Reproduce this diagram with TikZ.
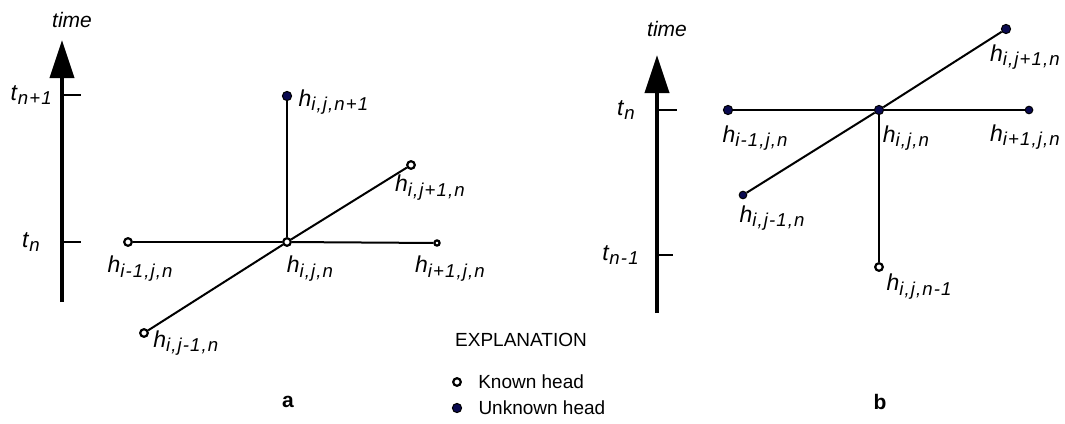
\documentclass[tikz,border=0pt]{standalone}
\usepackage{fontspec}
\setmainfont{Liberation Sans}
\newfontfamily\subfont[LetterSpace=6]{Liberation Sans}
\usetikzlibrary{arrows.meta,positioning}
\definecolor{HeadNavy}{RGB}{10,10,80}
\newcommand{\hlab}[1]{\textit{h}\raisebox{-2.2pt}{\fontsize{9.3}{11}\subfont\itshape #1}}
\newcommand{\tlab}[1]{\textit{t}\raisebox{-2.2pt}{\fontsize{9.3}{11}\subfont\itshape #1}}

\begin{document}
\begin{tikzpicture}[x=0.5pt,y=-0.5pt,
    known/.style={circle,draw=black,fill=white,line width=1.1pt,inner sep=0pt,minimum size=3.8pt},
    unknown/.style={circle,draw=black,fill=HeadNavy,line width=0.5pt,inner sep=0pt,minimum size=4.6pt},
    link/.style={black,line width=1pt},
    axis/.style={black,line width=2pt,-{Triangle[length=19pt,width=12pt]}},
    tickmark/.style={black,line width=1.3pt},
    lbl/.style={font=\fontsize{11.5}{13}\selectfont,inner sep=1pt},
    axlbl/.style={font=\fontsize{10.5}{12}\selectfont\itshape,inner sep=1pt},
    legend/.style={font=\fontsize{9.5}{11}\selectfont,inner sep=1pt},
    panel/.style={font=\fontsize{10.5}{12}\selectfont\bfseries,inner sep=1pt}
  ]
  \useasboundingbox (0,0) rectangle (1065,423);

  % panel a: time axis
  \coordinate (a-bot) at (62,302);
  \coordinate (a-top) at (62,40);
  \coordinate (a-tn1) at (62,95);
  \coordinate (a-tn1e) at (81,95);
  \coordinate (a-tn) at (62,242);
  \coordinate (a-tne) at (81,242);
  \draw[axis] (a-bot) -- (a-top);
  \draw[tickmark] (a-tn1) -- (a-tn1e);
  \draw[tickmark] (a-tn) -- (a-tne);
  \node[axlbl,above=5pt of a-top,xshift=5pt] (a-time) {time};
  \node[lbl,left=4pt of a-tn1] (a-tn1-lbl) {\tlab{n+1}};
  \node[lbl,left=10pt of a-tn] (a-tn-lbl) {\tlab{n}};

  % panel a: heads
  \node[known] (a-c) at (287,242) {};
  \node[known] (a-l) at (128,242) {};
  \node[known,minimum size=2.6pt] (a-r) at (437,243) {};
  \node[unknown] (a-u) at (287,96) {};
  \node[known] (a-f) at (411,165) {};
  \node[known] (a-b) at (144,333) {};
  \draw[link] (a-c) -- (a-l);
  \draw[link] (a-c) -- (a-r);
  \draw[link] (a-c) -- (a-u);
  \draw[link] (a-c) -- (a-f);
  \draw[link] (a-c) -- (a-b);
  \node[lbl,below=3.5pt of a-l,xshift=6pt] (a-l-lbl) {\hlab{i-1,j,n}};
  \node[lbl,below=3.5pt of a-c,xshift=11.5pt] (a-c-lbl) {\hlab{i,j,n}};
  \node[lbl,below=3.5pt of a-r,xshift=6.5pt] (a-r-lbl) {\hlab{i+1,j,n}};
  \node[lbl,right=2pt of a-u,yshift=-3pt] (a-u-lbl) {\hlab{i,j,n+1}};
  \node[lbl,below=1.5pt of a-f,xshift=9.5pt] (a-f-lbl) {\hlab{i,j+1,n}};
  \node[lbl,right=1pt of a-b,yshift=-5pt] (a-b-lbl) {\hlab{i,j-1,n}};
  \node[panel] (a-name) at (288,402) {a};

  % panel b: time axis
  \coordinate (b-bot) at (657,313);
  \coordinate (b-top) at (657,55);
  \coordinate (b-tn) at (657,110);
  \coordinate (b-tne) at (677,110);
  \coordinate (b-tm) at (657,255);
  \coordinate (b-tme) at (673,255);
  \draw[axis] (b-bot) -- (b-top);
  \draw[tickmark] (b-tn) -- (b-tne);
  \draw[tickmark,line width=0.8pt] (b-tm) -- (b-tme);
  \node[axlbl,above=8pt of b-top,xshift=5pt] (b-time) {time};
  \node[lbl,left=10pt of b-tn] (b-tn-lbl) {\tlab{n}};
  \node[lbl,left=8pt of b-tm] (b-tm-lbl) {\tlab{n-1}};

  % panel b: heads
  \node[unknown] (b-c) at (879,110) {};
  \node[unknown] (b-l) at (728,110) {};
  \node[unknown,minimum size=3.8pt] (b-r) at (1029,110) {};
  \node[known] (b-d) at (879,267) {};
  \node[unknown] (b-f) at (1006,29) {};
  \node[unknown,minimum size=3.8pt] (b-b) at (743,195) {};
  \draw[link] (b-c) -- (b-l);
  \draw[link] (b-c) -- (b-r);
  \draw[link] (b-c) -- (b-d);
  \draw[link] (b-c) -- (b-f);
  \draw[link] (b-c) -- (b-b);
  \node[lbl,below=4pt of b-l,xshift=13.5pt] (b-l-lbl) {\hlab{i-1,j,n}};
  \node[lbl,below=4pt of b-c,xshift=13.5pt] (b-c-lbl) {\hlab{i,j,n}};
  \node[lbl,below=4pt of b-r,xshift=-2pt] (b-r-lbl) {\hlab{i+1,j,n}};
  \node[lbl,below=4pt of b-f,xshift=9.5pt] (b-f-lbl) {\hlab{i,j+1,n}};
  \node[lbl,below=2pt of b-b,xshift=14.5pt] (b-b-lbl) {\hlab{i,j-1,n}};
  \node[lbl,below=0pt of b-d,xshift=20pt] (b-d-lbl) {\hlab{i,j,n-1}};
  \node[panel] (b-name) at (880,402) {b};

  % legend
  \node[legend] (expl) at (521,340) {EXPLANATION};
  \node[known] (key-known) at (457,382) {};
  \node[unknown] (key-unknown) at (457,408) {};
  \node[legend,right=7pt of key-known] (key-known-txt) {Known head};
  \node[legend,right=7pt of key-unknown] (key-unknown-txt) {Unknown head};
\end{tikzpicture}
\end{document}
